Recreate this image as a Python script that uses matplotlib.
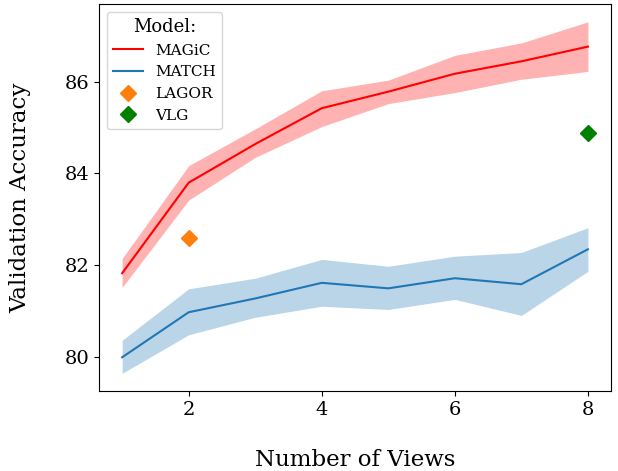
import matplotlib
matplotlib.use("Agg")
import matplotlib.pyplot as plt

plt.rcParams["font.family"] = "DejaVu Serif"

views = [1, 2, 3, 4, 5, 6, 7, 8]

magic_mean = [81.83, 83.80, 84.64, 85.42, 85.78, 86.17, 86.44, 86.76]
magic_low = [81.52, 83.42, 84.35, 85.02, 85.52, 85.76, 86.05, 86.22]
magic_high = [82.15, 84.17, 84.97, 85.80, 86.03, 86.57, 86.84, 87.30]

match_mean = [80.00, 80.98, 81.28, 81.62, 81.50, 81.72, 81.59, 82.35]
match_low = [79.65, 80.49, 80.87, 81.11, 81.04, 81.26, 80.91, 81.87]
match_high = [80.37, 81.49, 81.72, 82.13, 81.98, 82.20, 82.28, 82.82]

lagor_x, lagor_y = [2], [82.59]
vlg_x, vlg_y = [8], [84.89]

fig, ax = plt.subplots(figsize=(6.18, 4.71), dpi=100)
fig.subplots_adjust(left=0.160, right=0.989, top=0.991, bottom=0.170)

ax.plot(views, magic_mean, color="red", linewidth=1.5, label="MAGiC")
ax.fill_between(views, magic_low, magic_high, color="red", alpha=0.3, linewidth=0)
ax.plot(views, match_mean, color="tab:blue", linewidth=1.5, label="MATCH")
ax.fill_between(views, match_low, match_high, color="tab:blue", alpha=0.3, linewidth=0)
ax.plot(lagor_x, lagor_y, "D", color="tab:orange", markersize=8, label="LAGOR")
ax.plot(vlg_x, vlg_y, "D", color="green", markersize=8, label="VLG")

ax.set_xticks([2, 4, 6, 8])
ax.set_yticks([80, 82, 84, 86])
ax.tick_params(labelsize=14)
ax.set_xlabel("Number of Views", fontsize=16.5, labelpad=22)
ax.set_ylabel("Validation Accuracy", fontsize=16.5, labelpad=24)

ax.legend(title="Model:", loc="upper left", fontsize=11, title_fontsize=13)

fig.savefig("out.png", dpi=100)
